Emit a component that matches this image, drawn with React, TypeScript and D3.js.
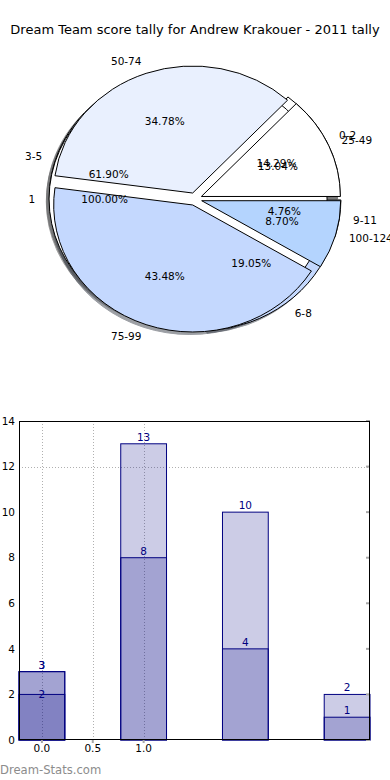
import React from 'react';
import * as d3 from 'd3';

// pie data (three pies drawn on top of each other)
const binLabels = ['0-2', '3-5', '6-8', '9-11'];
const binCounts = [3, 13, 4, 1];
const singleLabels = ['1'];
const singleCounts = [1];
const scoreLabels = ['25-49', '50-74', '75-99', '100-124'];
const scoreCounts = [3, 8, 10, 2];
const pieColors = ['#ffffff', '#e9f0fe', '#c4d8fe', '#b4d4fe'];

// bar data (overlapping translucent bars)
const barCats = [0, 1, 2, 3];
const barSeriesA = [3, 13, 10, 2];
const barSeriesB = [3, 8, 4, 1];
const barSeriesC = [2];
const barXTicks = [0, 0.5, 1.0];
const barYTicks = [0, 2, 4, 6, 8, 10, 12, 14];
const barGridY = [12];

const TITLE = 'Dream Team score tally for Andrew Krakouer - 2011 tally';
const FONT = 'DejaVu Sans, sans-serif';

export default function App() {
  const W = 390;
  const H = 780;

  // pie geometry
  const cx = 195;
  const cy = 199;
  const rx = 139;
  const ry = 127;
  const R = 100;
  const explode = 0.05;

  const pie = d3.pie<number>().sort(null).startAngle(Math.PI / 2).endAngle(Math.PI / 2 - 2 * Math.PI);
  const arc = d3.arc<d3.PieArcDatum<number>>().innerRadius(0).outerRadius(R);
  const pct = d3.format('.2%');

  const pies = [
    { labels: binLabels, counts: binCounts },
    { labels: singleLabels, counts: singleCounts },
    { labels: scoreLabels, counts: scoreCounts },
  ].map((p, pi) => {
    const total = d3.sum(p.counts);
    return pie(p.counts).map((a, i) => {
      const mid = (a.startAngle + a.endAngle) / 2;
      const ux = Math.sin(mid);
      const uy = -Math.cos(mid);
      const ox = cx + ux * explode * rx;
      const oy = cy + uy * explode * ry;
      return {
        key: `${pi}-${i}`,
        d: arc(a) as string,
        color: pieColors[i % pieColors.length],
        ox,
        oy,
        label: p.labels[i],
        lx: ox + ux * 1.1 * rx,
        ly: oy + uy * 1.1 * ry,
        anchor: ux > 0 ? 'start' : 'end',
        pct: pct(p.counts[i] / total),
        px: ox + ux * 0.6 * rx,
        py: oy + uy * 0.6 * ry,
      };
    });
  });
  const wedges = pies.flat();

  const shade = (c: string) => {
    const col = d3.rgb(c);
    return d3.rgb(col.r * 0.3, col.g * 0.3, col.b * 0.3).formatHex();
  };

  // bar geometry
  const bw = 0.45;
  const left = 19;
  const right = 370;
  const top = 421;
  const bottom = 740;
  const x = d3.scaleLinear().domain([-bw / 2, 3 + bw / 2]).range([left, right]);
  const y = d3.scaleLinear().domain([0, 14]).range([bottom, top]);
  const navy = '#000080';
  const series = [
    { vals: barSeriesA, lift: -3 },
    { vals: barSeriesB, lift: -3 },
    { vals: barSeriesC, lift: 4 },
  ];

  return (
    <svg
      width={W}
      height={H}
      viewBox={`0 0 ${W} ${H}`}
      style={{ position: 'absolute', left: 0, top: 0, display: 'block', background: '#fff' }}
      fontFamily={FONT}
    >
      <rect width={W} height={H} fill="#fff" />
      <text x={W / 2} y={34} textAnchor="middle" fontSize={13} fill="#000">
        {TITLE}
      </text>

      {/* shadows sit below every wedge */}
      {wedges.map(w => (
        <path
          key={'s' + w.key}
          d={w.d}
          transform={`translate(${w.ox - 0.02 * rx},${w.oy + 0.02 * ry}) scale(${rx / R},${ry / R})`}
          fill={shade(w.color)}
          stroke={shade(w.color)}
          strokeWidth={1}
          vectorEffect="non-scaling-stroke"
          opacity={0.5}
        />
      ))}
      {wedges.map(w => (
        <path
          key={'w' + w.key}
          d={w.d}
          transform={`translate(${w.ox},${w.oy}) scale(${rx / R},${ry / R})`}
          fill={w.color}
          stroke="#000"
          strokeWidth={1}
          vectorEffect="non-scaling-stroke"
          strokeLinejoin="round"
        />
      ))}
      {wedges.map(w => (
        <g key={'t' + w.key} fontSize={10.5} fill="#000">
          <text x={w.lx} y={w.ly} dy="0.35em" textAnchor={w.anchor}>
            {w.label}
          </text>
          <text x={w.px} y={w.py} dy="0.35em" textAnchor="middle">
            {w.pct}
          </text>
        </g>
      ))}

      {/* bar chart */}
      <g stroke="#b0b0b0" strokeWidth={1} strokeDasharray="1,2">
        {barXTicks.map(t => (
          <line key={'gx' + t} x1={Math.round(x(t)) + 0.5} x2={Math.round(x(t)) + 0.5} y1={top} y2={bottom} />
        ))}
        {barGridY.map(t => (
          <line key={'gy' + t} x1={left} x2={right} y1={Math.round(y(t)) + 0.5} y2={Math.round(y(t)) + 0.5} />
        ))}
      </g>

      {series.map((s, si) =>
        s.vals.map((v, i) => (
          <rect
            key={`b${si}-${i}`}
            x={x(barCats[i] - bw / 2)}
            y={y(v)}
            width={x(barCats[i] + bw / 2) - x(barCats[i] - bw / 2)}
            height={y(0) - y(v)}
            fill={navy}
            fillOpacity={0.2}
            stroke={navy}
            strokeWidth={1}
          />
        ))
      )}
      {series.map((s, si) =>
        s.vals.map((v, i) => (
          <text
            key={`bl${si}-${i}`}
            x={x(barCats[i])}
            y={y(v) + s.lift}
            textAnchor="middle"
            fontSize={10.5}
            fill={navy}
          >
            {v}
          </text>
        ))
      )}

      {/* right side inner ticks and bottom ticks */}
      <g stroke="#a8a8a8" strokeWidth={2}>
        {barYTicks.map(t => (
          <line key={'rt' + t} x1={right - 4} x2={right} y1={y(t)} y2={y(t)} />
        ))}
        {barXTicks.map(t => (
          <line key={'bt' + t} x1={x(t)} x2={x(t)} y1={bottom} y2={bottom + 3} />
        ))}
      </g>

      <rect x={left + 0.5} y={top + 0.5} width={right - left - 1} height={bottom - top - 1} fill="none" stroke="#000" strokeWidth={1} />

      {barYTicks.map(t => (
        <text key={'yl' + t} x={left - 4} y={y(t)} dy="0.35em" textAnchor="end" fontSize={10.5} fill="#000">
          {t}
        </text>
      ))}
      {barXTicks.map(t => (
        <text key={'xl' + t} x={x(t)} y={bottom + 8} dy="0.35em" textAnchor="middle" fontSize={10.5} fill="#000">
          {d3.format('.1f')(t)}
        </text>
      ))}

      <text x={0} y={774} fontSize={11.6} fill="#8c8c8c">
        Dream-Stats.com
      </text>
    </svg>
  );
}
